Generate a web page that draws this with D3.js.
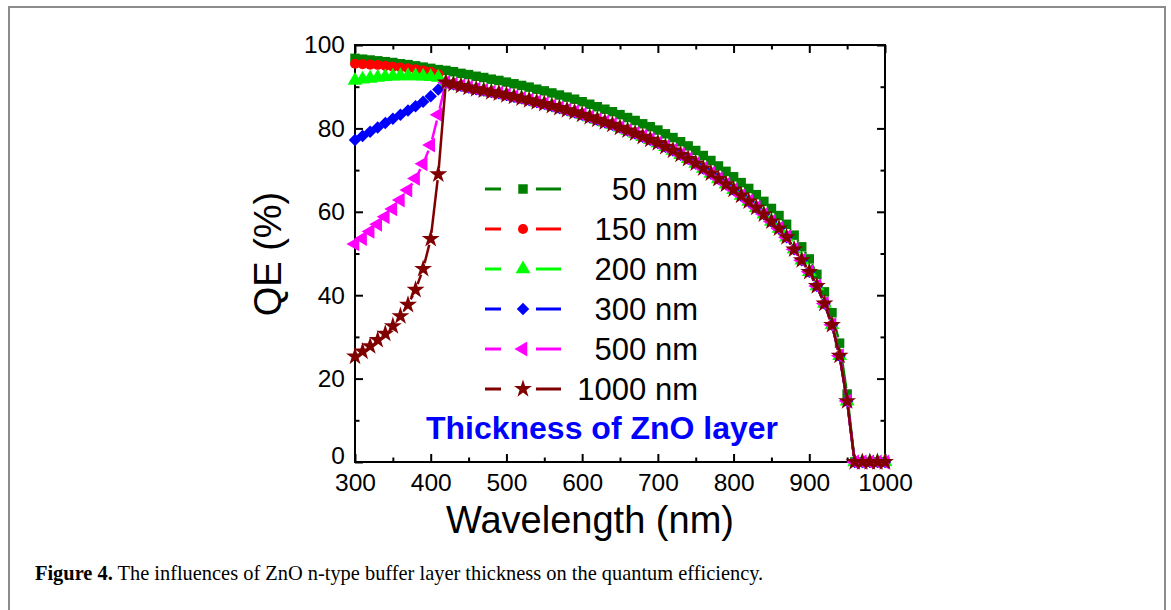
<!DOCTYPE html>
<html>
<head>
<meta charset="utf-8">
<script src="https://cdn.jsdelivr.net/npm/d3@7"></script>
<style>
  body { margin: 0; background: #fff; }
  svg { display: block; }
  .tick text { font-family: "Liberation Sans", Arial, sans-serif; font-size: 24.5px; fill: #000; }
</style>
</head>
<body>
<div id="chart"></div>
<script>
// wavelength grid (nm)
const wavelengths = d3.range(300, 1001, 10);

// 50 nm keeps its own curve over the whole range
const qe50 = [96.8, 96.6, 96.4, 96.2, 96.0, 95.8, 95.5, 95.3, 95.0, 94.7, 94.4, 94.1,
  93.9, 93.6, 93.2, 92.9, 92.5, 92.2, 91.8, 91.5, 91.1, 90.7, 90.3, 89.9, 89.4, 89.0,
  88.5, 88.0, 87.5, 87.0, 86.4, 85.8, 85.2, 84.6, 84.0, 83.3, 82.6, 81.9, 81.1, 80.4,
  79.6, 78.7, 77.8, 76.8, 75.8, 74.7, 73.5, 72.3, 71.0, 69.7, 68.4, 67.0, 65.6, 64.1,
  62.5, 60.8, 59.1, 57.0, 54.4, 51.6, 48.7, 45.0, 40.8, 35.8, 28.5, 16.3, 0, 0, 0, 0, 0];

// the thicker layers all fall on the same curve from 420 nm on
const tail = [91.0, 90.6, 90.2, 89.8, 89.4, 89.1, 88.7, 88.4, 88.0, 87.6, 87.2, 86.8,
  86.3, 85.9, 85.4, 84.9, 84.4, 83.9, 83.3, 82.7, 82.1, 81.5, 80.9, 80.2, 79.5, 78.8,
  78.0, 77.3, 76.5, 75.6, 74.7, 73.7, 72.7, 71.6, 70.4, 69.2, 67.9, 66.6, 65.3, 63.9,
  62.5, 61.0, 59.4, 57.7, 56.0, 53.9, 51.0, 48.4, 45.6, 42.2, 38.0, 32.9, 25.5, 14.6,
  0, 0, 0, 0, 0];

// 300 .. 410 nm, before the ZnO absorption edge
const head150 = [95.5, 95.4, 95.3, 95.2, 95.0, 94.8, 94.6, 94.4, 94.2, 93.9, 93.6, 93.0];
const head200 = [91.5, 91.8, 92.0, 92.2, 92.4, 92.5, 92.6, 92.6, 92.6, 92.5, 92.4, 92.2];
const head300 = [77.2, 78.2, 79.2, 80.2, 81.3, 82.3, 83.3, 84.3, 85.3, 86.4, 87.7, 89.3];
const head500 = [52.3, 53.6, 55.3, 57.0, 58.8, 60.7, 62.8, 65.2, 68.0, 71.5, 76.0, 83.3];
const head1000 = [25.3, 26.5, 27.8, 29.3, 30.8, 32.6, 35.0, 37.7, 41.3, 46.3, 53.5, 69.0];

const labels = ["50 nm", "150 nm", "200 nm", "300 nm", "500 nm", "1000 nm"];
const colors = ["#008000", "#ff0000", "#00ff00", "#0000ff", "#ff00ff", "#800000"];
const values = [qe50, head150.concat(tail), head200.concat(tail), head300.concat(tail),
  head500.concat(tail), head1000.concat(tail)];

const xTicks = [300, 400, 500, 600, 700, 800, 900, 1000];
const yTicks = [0, 20, 40, 60, 80, 100];

const W = 1171, H = 610;
const svg = d3.select("#chart").append("svg").attr("width", W).attr("height", H);

// page frame
svg.append("path")
  .attr("d", "M9,612V7H1165V612")
  .attr("fill", "none").attr("stroke", "#8c8c8c").attr("stroke-width", 2);

const x = d3.scaleLinear().domain([300, 1000]).range([355, 885]);
const y = d3.scaleLinear().domain([0, 100]).range([462, 45]);

// axes, ticks pointing inwards
function minor(ticks, step) { return ticks.slice(0, -1).map(t => t + step / 2); }

const g = svg.append("g");
g.append("g").attr("transform", `translate(0,${y(0)})`)
  .call(d3.axisBottom(x).tickValues(xTicks).tickFormat(d3.format("d"))
    .tickSizeInner(-8).tickSizeOuter(0).tickPadding(12));
g.append("g").attr("transform", `translate(0,${y(0)})`)
  .call(d3.axisBottom(x).tickValues(minor(xTicks, 100)).tickSize(-4.5).tickFormat(""));
g.append("g").attr("transform", `translate(0,${y(100)})`)
  .call(d3.axisTop(x).tickValues(xTicks.concat(minor(xTicks, 100))).tickSize(-8).tickFormat(""))
  .selectAll(".tick line").filter(d => d % 100 !== 0).attr("y2", 4.5);
const yAxis = g.append("g").attr("transform", `translate(${x(300)},0)`)
  .call(d3.axisLeft(y).tickValues(yTicks).tickSizeInner(-8).tickSizeOuter(0).tickPadding(10));
// lift the "0" a little so it clears the "300" below it
yAxis.selectAll(".tick text").filter(d => d === 0).attr("y", -6);
g.append("g").attr("transform", `translate(${x(300)},0)`)
  .call(d3.axisLeft(y).tickValues(minor(yTicks, 20)).tickSize(-4.5).tickFormat(""));
g.append("g").attr("transform", `translate(${x(1000)},0)`)
  .call(d3.axisRight(y).tickValues(yTicks.concat(minor(yTicks, 20))).tickSize(-8).tickFormat(""))
  .selectAll(".tick line").filter(d => d % 20 !== 0).attr("x2", -4.5);
g.selectAll(".domain").remove();
g.selectAll(".tick line").attr("stroke", "#000").attr("stroke-width", 2);

svg.append("rect")
  .attr("x", x(300)).attr("y", y(100))
  .attr("width", x(1000) - x(300)).attr("height", y(0) - y(100))
  .attr("fill", "none").attr("stroke", "#000").attr("stroke-width", 2);

// marker shapes
const symbols = [
  { type: d3.symbolSquare, size: 90, rot: 0 },
  { type: d3.symbolCircle, size: 80, rot: 0 },
  { type: d3.symbolTriangle, size: 95, rot: 0 },
  { type: d3.symbolSquare, size: 78, rot: 45 },
  { type: d3.symbolTriangle, size: 95, rot: -90 },
  { type: d3.symbolStar, size: 100, rot: 0 }
];

// line drawn with a gap around each marker
const gap = 6;
function segments(pts) {
  const out = [];
  for (let i = 0; i < pts.length - 1; i++) {
    const [x0, y0] = pts[i], [x1, y1] = pts[i + 1];
    const dx = x1 - x0, dy = y1 - y0, len = Math.hypot(dx, dy);
    if (len <= 2 * gap + 1) continue;
    const ux = dx / len, uy = dy / len;
    out.push([x0 + ux * gap, y0 + uy * gap, x1 - ux * gap, y1 - uy * gap]);
  }
  return out;
}

const plot = svg.append("g");
values.forEach((vals, s) => {
  const pts = vals.map((v, i) => [x(wavelengths[i]), y(v)]);
  const sg = plot.append("g");
  sg.selectAll("line").data(segments(pts)).enter().append("line")
    .attr("x1", d => d[0]).attr("y1", d => d[1])
    .attr("x2", d => d[2]).attr("y2", d => d[3])
    .attr("stroke", colors[s]).attr("stroke-width", 2.5);
  const sym = d3.symbol().type(symbols[s].type).size(symbols[s].size);
  sg.selectAll("path").data(pts).enter().append("path")
    .attr("d", sym)
    .attr("transform", d => `translate(${d[0]},${d[1]}) rotate(${symbols[s].rot})`)
    .attr("fill", colors[s]);
});

// legend
const legend = svg.append("g");
labels.forEach((lab, s) => {
  const ly = 189 + s * 40;
  legend.append("line").attr("x1", 485).attr("x2", 501).attr("y1", ly).attr("y2", ly)
    .attr("stroke", colors[s]).attr("stroke-width", 3);
  legend.append("line").attr("x1", 536).attr("x2", 561).attr("y1", ly).attr("y2", ly)
    .attr("stroke", colors[s]).attr("stroke-width", 3);
  legend.append("path")
    .attr("d", d3.symbol().type(symbols[s].type).size(symbols[s].size))
    .attr("transform", `translate(523,${ly}) rotate(${symbols[s].rot})`)
    .attr("fill", colors[s]);
  legend.append("text").attr("x", 698).attr("y", ly + 11)
    .attr("text-anchor", "end")
    .style("font-family", "'Liberation Sans', Arial, sans-serif").style("font-size", "31px")
    .text(lab);
});

svg.append("text").attr("x", 602).attr("y", 439).attr("text-anchor", "middle")
  .style("font-family", "'Liberation Sans', Arial, sans-serif").style("font-size", "32px")
  .style("font-weight", "bold").attr("fill", "#0000ff")
  .text("Thickness of ZnO layer");

// axis titles
svg.append("text").attr("x", 590).attr("y", 533).attr("text-anchor", "middle")
  .style("font-family", "'Liberation Sans', Arial, sans-serif").style("font-size", "38px")
  .text("Wavelength (nm)");
svg.append("text").attr("transform", "translate(281,254) rotate(-90)").attr("text-anchor", "middle")
  .style("font-family", "'Liberation Sans', Arial, sans-serif").style("font-size", "38px")
  .text("QE (%)");

// caption
const cap = svg.append("text").attr("x", 35).attr("y", 580)
  .style("font-family", "'Liberation Serif', 'Times New Roman', serif").style("font-size", "20.4px");
cap.append("tspan").style("font-weight", "bold").text("Figure 4.");
cap.append("tspan").text(" The influences of ZnO n-type buffer layer thickness on the quantum efficiency.");
</script>
</body>
</html>
